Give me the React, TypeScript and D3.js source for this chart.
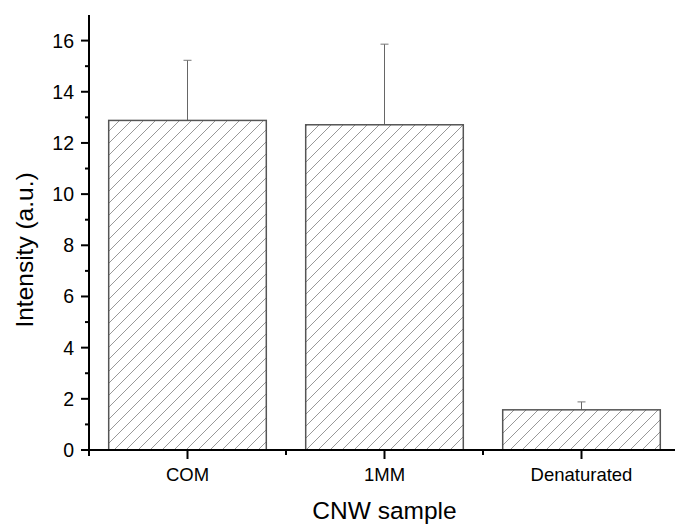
import React from "react";
import { scaleBand, scaleLinear, range } from "d3";

const categories = ["COM", "1MM", "Denaturated"];
const values = [12.88, 12.71, 1.57];
const errors = [2.35, 3.15, 0.31];
const yTicks = [0, 2, 4, 6, 8, 10, 12, 14, 16];

const width = 675;
const height = 525;
const left = 89;
const right = 680;
const top = 15;
const bottom = 450;
const font = "'Liberation Sans', Arial, sans-serif";

export default function App() {
    const x = scaleBand<string>()
        .domain(categories)
        .range([left, right])
        .paddingInner(0.2)
        .paddingOuter(0.1);
    const y = scaleLinear().domain([0, 17]).range([bottom, top]);
    const step = x.step();
    const minorY = range(1, 17, 2);
    // boundaries between categories get short ticks
    const bounds = range(0, categories.length + 1).map(i => left + i * step);

    return (
        <svg
            width={width}
            height={height}
            style={{ position: "absolute", left: 0, top: 0 }}
        >
            <defs>
                <pattern
                    id="hatch"
                    patternUnits="userSpaceOnUse"
                    width={12}
                    height={12}
                >
                    <path
                        d="M0,12 L12,0 M-3,3 L3,-3 M9,15 L15,9"
                        stroke="#8c8c8c"
                        strokeWidth={0.9}
                    />
                </pattern>
            </defs>
            <rect width={width} height={height} fill="#fff" />

            {categories.map((c, i) => {
                const cx = x(c)! + x.bandwidth() / 2;
                const yTop = y(values[i]);
                const yErr = y(values[i] + errors[i]);
                return (
                    <g key={c}>
                        <line x1={cx} x2={cx} y1={yTop} y2={yErr} stroke="#666" strokeWidth={1} />
                        <line x1={cx - 4} x2={cx + 4} y1={yErr} y2={yErr} stroke="#777" strokeWidth={1} />
                        <rect
                            x={x(c)}
                            y={yTop}
                            width={x.bandwidth()}
                            height={bottom - yTop}
                            fill="url(#hatch)"
                            stroke="#555"
                            strokeWidth={1.5}
                        />
                    </g>
                );
            })}

            {/* y axis */}
            <line x1={left} x2={left} y1={top} y2={bottom + 6} stroke="#000" strokeWidth={2} />
            {yTicks.map(t => (
                <g key={t}>
                    <line x1={left - 8} x2={left} y1={y(t)} y2={y(t)} stroke="#000" strokeWidth={2} />
                    <text
                        x={left - 15}
                        y={y(t)}
                        dy="0.36em"
                        textAnchor="end"
                        fontFamily={font}
                        fontSize={19.5}
                    >
                        {t}
                    </text>
                </g>
            ))}
            {minorY.map(t => (
                <line key={t} x1={left - 4} x2={left} y1={y(t)} y2={y(t)} stroke="#000" strokeWidth={2} />
            ))}

            {/* x axis */}
            <line x1={left - 8} x2={right} y1={bottom} y2={bottom} stroke="#000" strokeWidth={2} />
            {bounds.map((b, i) => (
                <line key={i} x1={b} x2={b} y1={bottom} y2={bottom + 5} stroke="#000" strokeWidth={2} />
            ))}
            {categories.map(c => {
                const cx = x(c)! + x.bandwidth() / 2;
                return (
                    <g key={c}>
                        <line x1={cx} x2={cx} y1={bottom} y2={bottom + 9} stroke="#000" strokeWidth={2} />
                        <text
                            x={cx}
                            y={481}
                            textAnchor="middle"
                            fontFamily={font}
                            fontSize={18.5}
                        >
                            {c}
                        </text>
                    </g>
                );
            })}

            <text
                x={(left + right) / 2}
                y={519}
                textAnchor="middle"
                fontFamily={font}
                fontSize={24.5}
            >
                CNW sample
            </text>
            <text
                transform={`translate(33,250) rotate(-90)`}
                textAnchor="middle"
                fontFamily={font}
                fontSize={24.5}
            >
                Intensity (a.u.)
            </text>
        </svg>
    );
}
